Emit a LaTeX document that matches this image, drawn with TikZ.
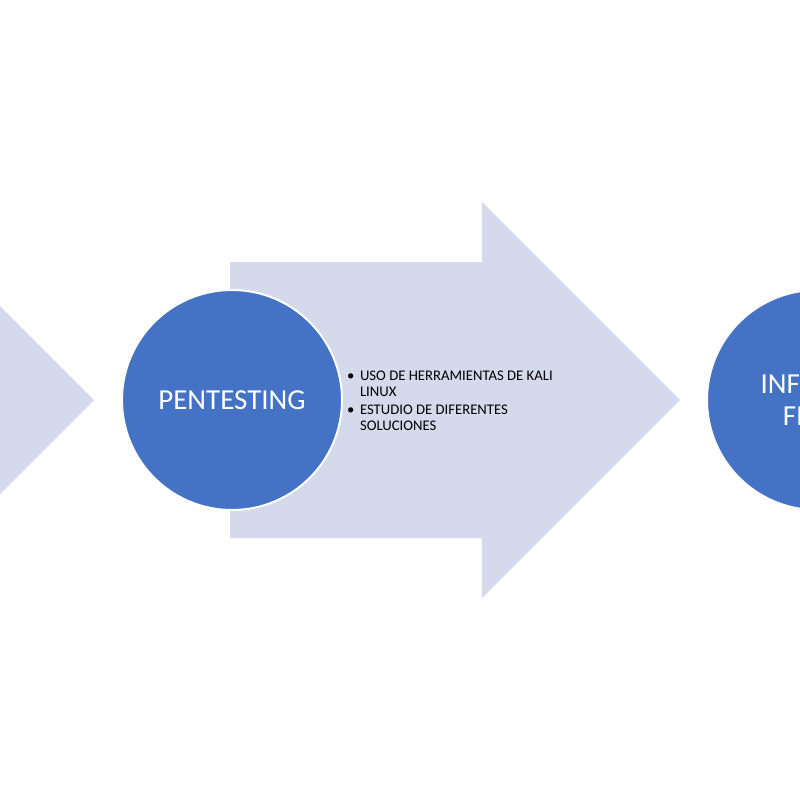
\documentclass[tikz,border=0pt]{standalone}
\usepackage{fontspec}
\setmainfont{Carlito}
\usetikzlibrary{positioning}
\definecolor{phaseblue}{RGB}{68,114,196}
\definecolor{arrowlilac}{RGB}{212,217,235}

\begin{document}
\begin{tikzpicture}[x=1pt, y=-1pt,
	phase/.style={circle, draw=white, line width=2pt, fill=phaseblue, text=white, minimum size=220pt, inner sep=0pt, align=center, font=\fontsize{29}{32}\selectfont},
	bigarrow/.style={fill=arrowlilac, draw=none},
	bullets/.style={inner sep=0pt, anchor=west, font=\fontsize{14.7}{16}\selectfont}]
	\useasboundingbox (0,0) rectangle (800,800);
	\clip (0,0) rectangle (800,800);
	% arrows behind the circles
	\fill[bigarrow] (-400,262) -- (-104,262) -- (-104,202) -- (94,400) -- (-104,598) -- (-104,538) -- (-400,538) -- cycle;
	\fill[bigarrow] (230,262) -- (482,262) -- (482,202) -- (680,400) -- (482,598) -- (482,538) -- (230,538) -- cycle;
	\node[phase] (pentesting) at (232,400) {PENTESTING};
	\node[phase] (informe) at (817,400) {INFORME\\FINAL};
	\node[bullets] (tareas) [right = 4pt of pentesting, yshift=-2.5pt] {\begin{tabular}{@{}l@{\hspace{5.5pt}}l@{}}
		\textbullet & USO DE HERRAMIENTAS DE KALI\\
		& LINUX\\[2.5pt]
		\textbullet & ESTUDIO DE DIFERENTES\\
		& SOLUCIONES
	\end{tabular}};
\end{tikzpicture}
\end{document}
